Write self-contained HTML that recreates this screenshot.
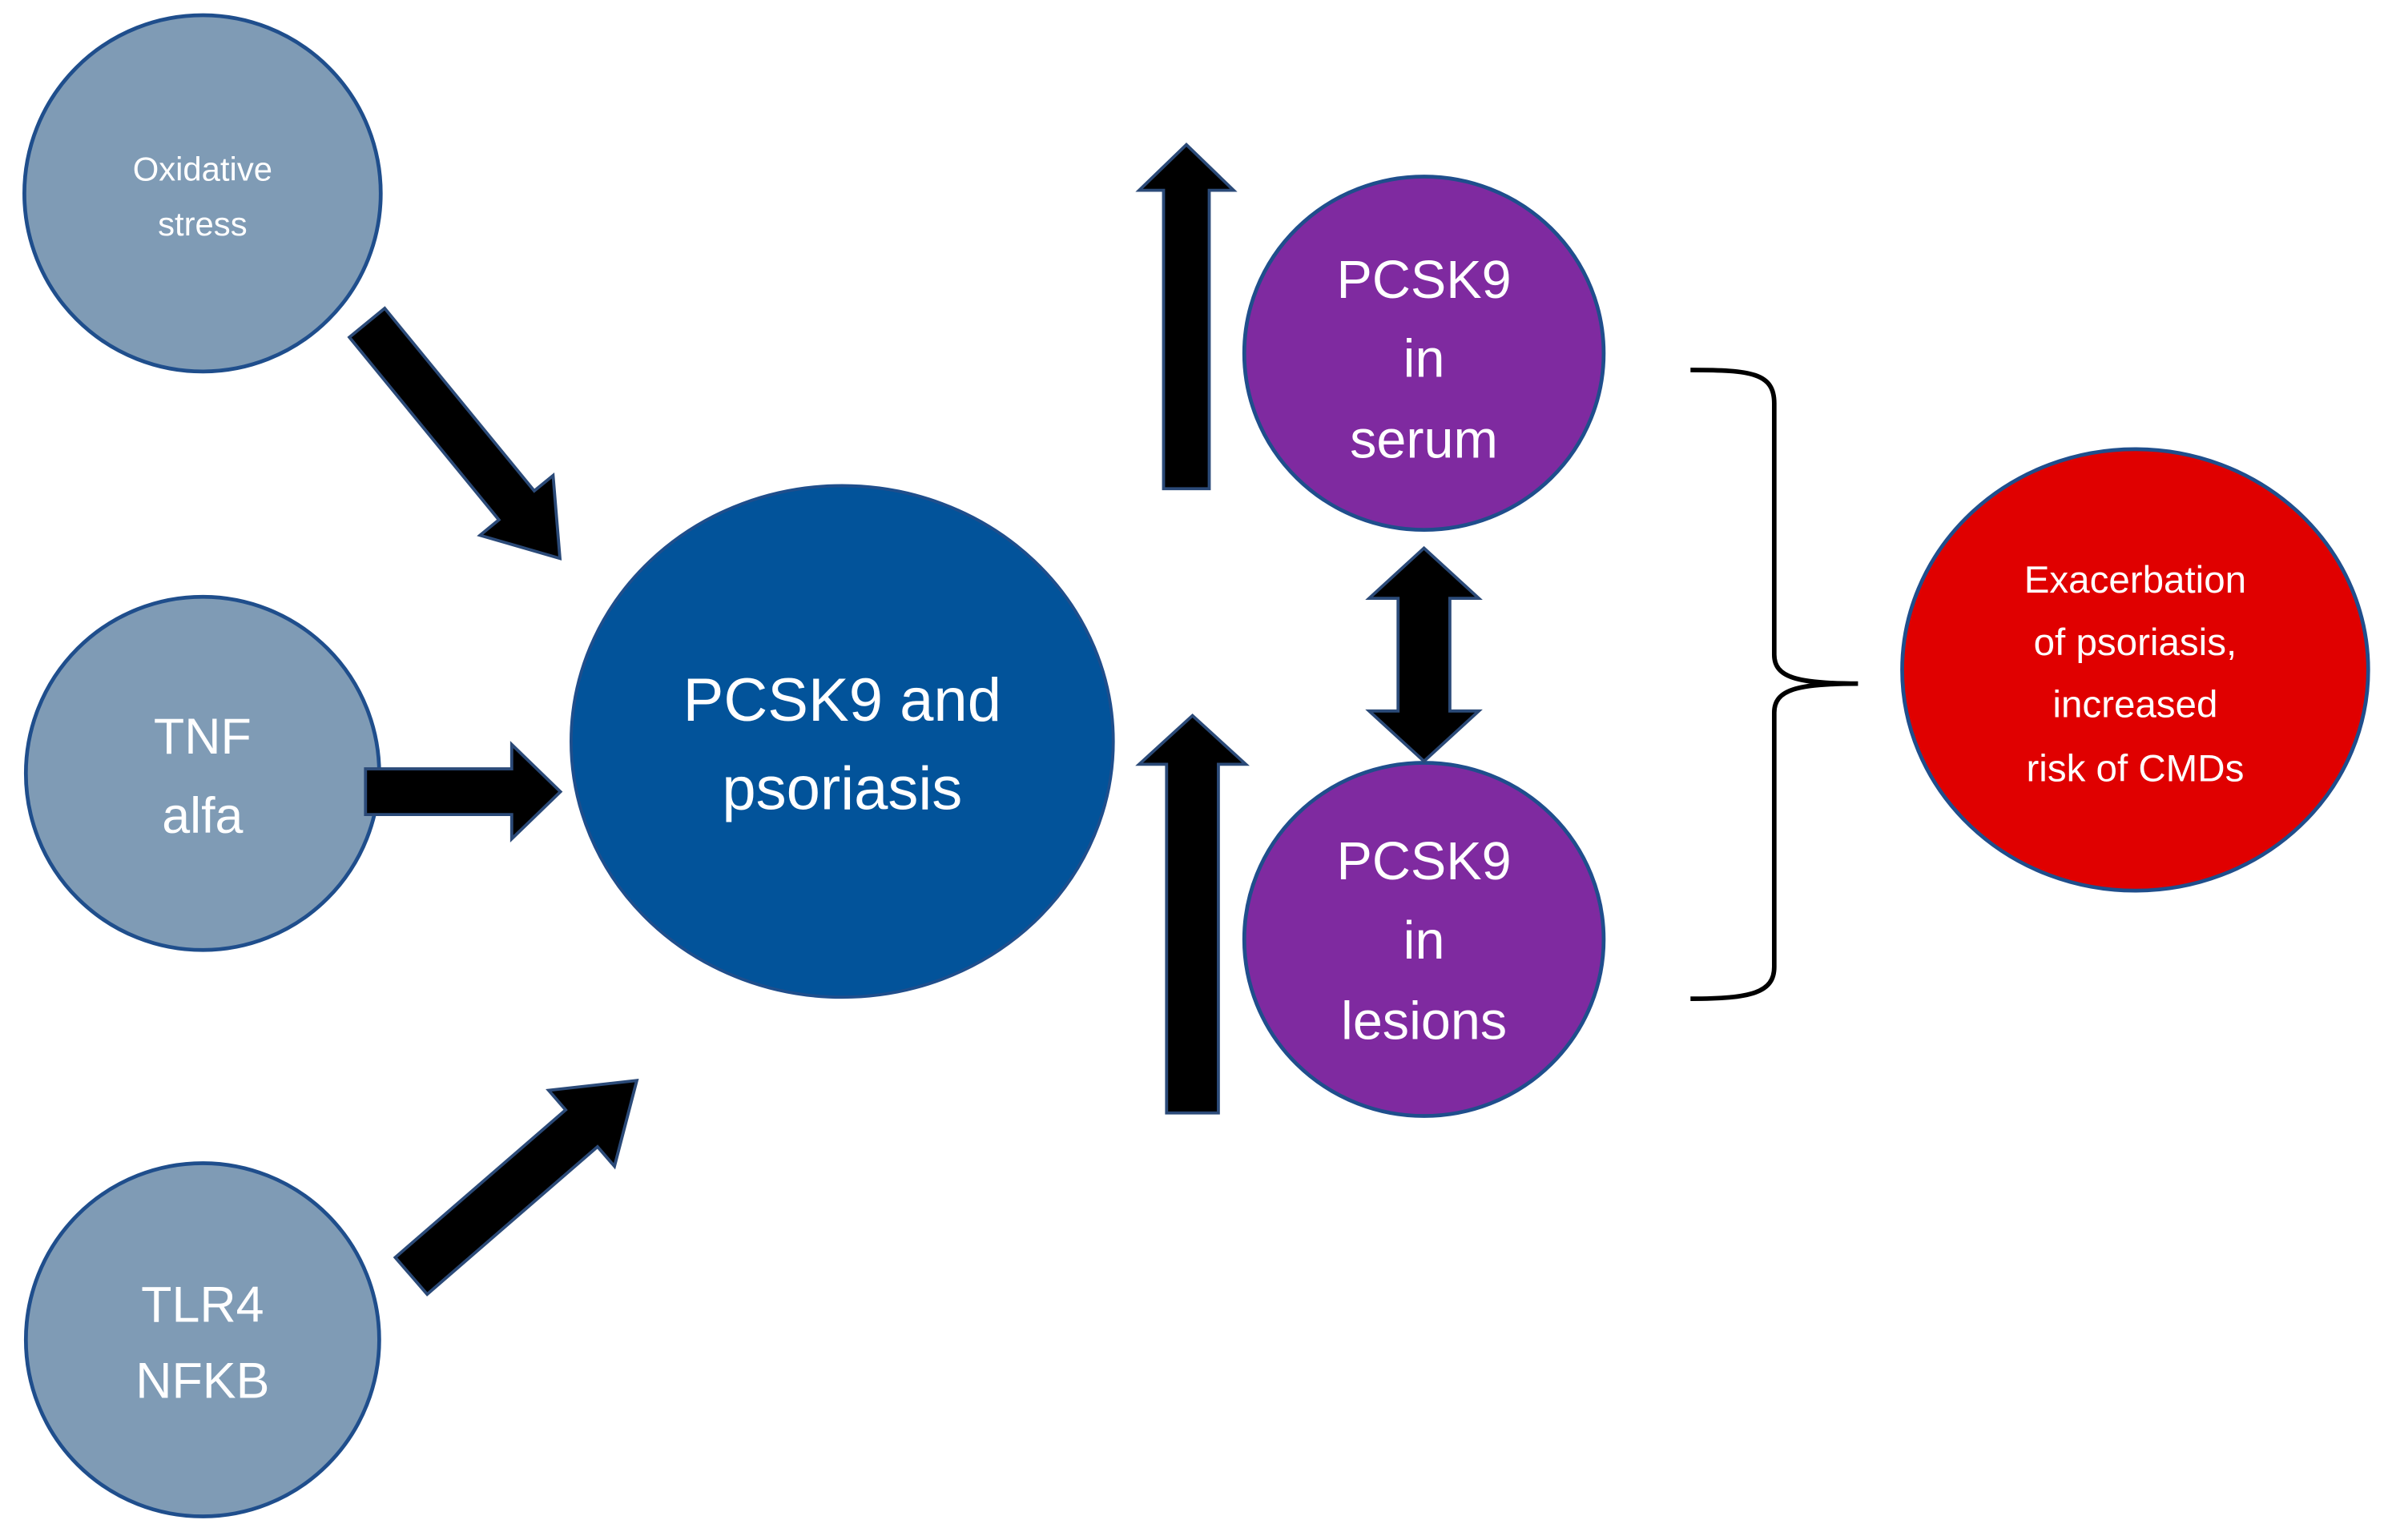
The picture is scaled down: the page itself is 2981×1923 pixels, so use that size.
<!DOCTYPE html>
<html><head><meta charset="utf-8"><style>
html,body{margin:0;padding:0;background:#fff;}
svg{display:block;}
text{font-family:"Liberation Sans",sans-serif;fill:#fff;text-anchor:middle;dominant-baseline:central;}
</style></head><body>
<svg width="2981" height="1923" viewBox="0 0 1568 1011.5" preserveAspectRatio="none" xmlns="http://www.w3.org/2000/svg">
<defs>
<style>.ar{fill:#000;stroke:#2b4a78;stroke-width:2;}</style>
</defs>
<!-- left circles -->
<g fill="#7f9bb5" stroke="#1f4e8c" stroke-width="2.5">
<circle cx="133" cy="127" r="117"/>
<circle cx="133" cy="508" r="116"/>
<circle cx="133" cy="880" r="116"/>
</g>
<text x="133" y="111" font-size="22">Oxidative</text>
<text x="133" y="147" font-size="22">stress</text>
<text x="133" y="484" font-size="33">TNF</text>
<text x="133" y="536" font-size="33">alfa</text>
<text x="133" y="857" font-size="33">TLR4</text>
<text x="133" y="907" font-size="33">NFKB</text>

<!-- central -->
<ellipse cx="553" cy="487" rx="178" ry="168" fill="#02539a" stroke="#1f4e8c" stroke-width="2"/>
<text x="553" y="460" font-size="40">PCSK9 and</text>
<text x="553" y="518" font-size="40">psoriasis</text>

<!-- purple -->
<g fill="#7f2aa0" stroke="#1f4e8c" stroke-width="2.5">
<ellipse cx="935" cy="232" rx="118" ry="116"/>
<ellipse cx="935" cy="617" rx="118" ry="116"/>
</g>
<text x="935" y="184" font-size="35">PCSK9</text>
<text x="935" y="236" font-size="35">in</text>
<text x="935" y="289" font-size="35">serum</text>
<text x="935" y="566" font-size="35">PCSK9</text>
<text x="935" y="618" font-size="35">in</text>
<text x="935" y="671" font-size="35">lesions</text>

<!-- red -->
<ellipse cx="1402" cy="440" rx="153" ry="145" fill="#e00000" stroke="#1f4e8c" stroke-width="2.5"/>
<text x="1402" y="381" font-size="25">Exacerbation</text>
<text x="1402" y="422" font-size="25">of psoriasis,</text>
<text x="1402" y="463" font-size="25">increased</text>
<text x="1402" y="505" font-size="25">risk of CMDs</text>

<!-- arrows -->
<g transform="translate(241,212) rotate(50.7)"><polygon class="ar" points="0,-15 155,-15 155,-31 200,0 155,31 155,15 0,15"/></g>
<g transform="translate(240,520)"><polygon class="ar" points="0,-15 96,-15 96,-31 128,0 96,31 96,15 0,15"/></g>
<g transform="translate(270,838) rotate(-40.9)"><polygon class="ar" points="0,-16 148,-16 148,-33 196,0 148,33 148,16 0,16"/></g>
<g transform="translate(779,321) rotate(-90)"><polygon class="ar" points="0,-15 196,-15 196,-31 226,0 196,31 196,15 0,15"/></g>
<g transform="translate(783,731) rotate(-90)"><polygon class="ar" points="0,-17 229,-17 229,-35 261,0 229,35 229,17 0,17"/></g>
<polygon class="ar" points="935,360 971,393 952,393 952,467 971,467 935,500 899,467 918,467 918,393 899,393"/>

<!-- brace -->
<path d="M1110,243 C1150,243 1165,245 1165,265 L1165,430 C1165,445 1180,449 1220,449 C1180,449 1165,453 1165,468 L1165,635 C1165,652 1150,656 1110,656" fill="none" stroke="#000" stroke-width="3"/>
</svg>
</body></html>
